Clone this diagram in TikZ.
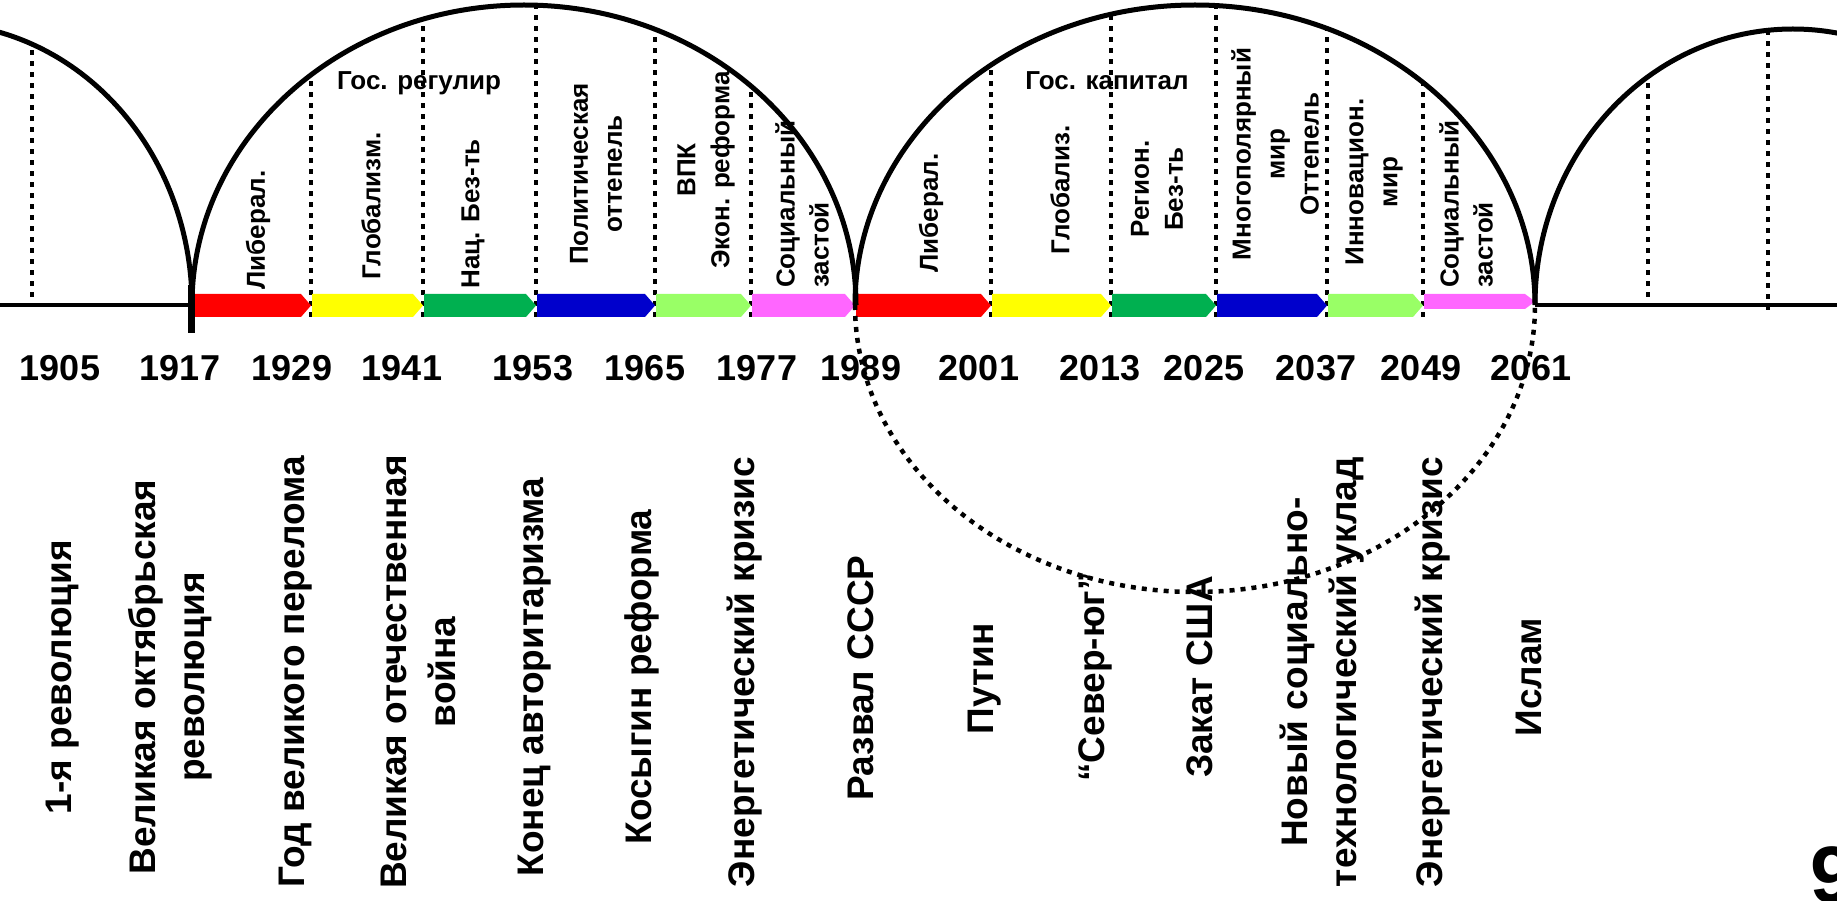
\documentclass[tikz,border=0pt]{standalone}
\usepackage{fontspec}
\setmainfont{Liberation Sans}
\definecolor{segRed}{RGB}{255,0,0}
\definecolor{segYellow}{RGB}{255,255,0}
\definecolor{segGreen}{RGB}{0,176,80}
\definecolor{segBlue}{RGB}{0,0,204}
\definecolor{segLightGreen}{RGB}{153,255,102}
\definecolor{segMagenta}{RGB}{255,102,255}
\newcommand\segarr[3]{\fill[fill=#1] (#2,-294) -- ({#3-10},-294) -- (#3,-305.5) -- ({#3-10},-317) -- (#2,-317) -- cycle;}
\begin{document}
\begin{tikzpicture}[x=1pt,y=1pt,
  arcline/.style={line width=5pt},
  dotline/.style={line width=4.5pt, dash pattern=on 5pt off 6pt},
  axisline/.style={line width=4pt},
  small/.style={font=\bfseries\fontsize{26}{34}\selectfont, inner sep=0pt, rotate=90, align=center},
  big/.style={font=\bfseries\fontsize{37}{49}\selectfont, inner sep=0pt, rotate=90, align=center},
  year/.style={font=\bfseries\fontsize{36}{40}\selectfont, inner sep=0pt, anchor=base},
  toplab/.style={font=\bfseries\fontsize{26}{30}\selectfont, inner sep=0pt, anchor=base},
]
\useasboundingbox (0,0) rectangle (1837,-901);
\clip (0,0) rectangle (1837,-901);

% dotted verticals, clipped to the arcs
\begin{scope}
  \clip (-66,-305) ellipse [x radius=258pt, y radius=282pt];
  \draw[dotline] (32,-297) -- (32,0);
\end{scope}
\begin{scope}
  \clip (523.5,-305) ellipse [x radius=332pt, y radius=300pt];
  \foreach \xx in {311,423,536,655,751} \draw[dotline] (\xx,-317) -- (\xx,0);
\end{scope}
\begin{scope}
  \clip (1195,-305) ellipse [x radius=340pt, y radius=300pt];
  \foreach \xx in {991,1111,1216,1327,1423} \draw[dotline] (\xx,-317) -- (\xx,0);
\end{scope}
\begin{scope}
  \clip (1793,-305) ellipse [x radius=258pt, y radius=276pt];
  \draw[dotline] (1648,-297) -- (1648,0);
  \draw[dotline] (1768,-310) -- (1768,0);
\end{scope}

% axis
\coordinate (a0) at (0,-305);
\coordinate (a1) at (192,-305);
\coordinate (a2) at (1535,-305);
\coordinate (a3) at (1837,-305);
\draw[axisline] (a0) -- (a1);
\draw[axisline] (a2) -- (a3);

% coloured segments
\segarr{segRed}{192}{311}
\segarr{segYellow}{312}{423}
\segarr{segGreen}{424}{536}
\segarr{segBlue}{537}{655}
\segarr{segLightGreen}{656}{751}
\segarr{segMagenta}{752}{855}
\segarr{segRed}{856}{991}
\segarr{segYellow}{992}{1111}
\segarr{segGreen}{1112}{1216}
\segarr{segBlue}{1217}{1327}
\segarr{segLightGreen}{1328}{1423}
\fill[fill=segMagenta] (1424,-294) -- (1525,-294) -- (1535,-301.5) -- (1525,-309) -- (1424,-309) -- cycle;

% thick tick at 1917
\draw[line width=7pt] (191.5,-285) -- (191.5,-333);

% arcs
\draw[arcline] (192,-305) arc[start angle=0, end angle=115, x radius=258pt, y radius=282pt];
\draw[arcline] (192,-305) arc[start angle=180, end angle=0, x radius=332pt, y radius=300pt];
\draw[arcline] (855,-305) arc[start angle=180, end angle=0, x radius=340pt, y radius=300pt];
\draw[arcline] (1535,-305) arc[start angle=180, end angle=60, x radius=258pt, y radius=276pt];
\draw[dotline] (855,-305) arc[start angle=180, end angle=360, x radius=340pt, y radius=287pt];

% top labels
\node[toplab] (gr) at (419,-90) {Гос. регулир};
\node[toplab] (gk) at (1107,-90) {Гос. капитал};

% labels above the segments
\node[small] (l1) at (258,-230) {Либерал.};
\node[small] (l2) at (371,-206) {Глобализм.};
\node[small] (l3) at (473,-214) {Нац. Без-ть};
\node[small] (l4) at (596,-174) {Политическая\\оттепель};
\node[small] (l5) at (706,-170) {ВПК\\Экон. реформа};
\node[small, align=left, anchor=west] (l6) at (802,-288) {Социальный\\застой};
\node[small] (l7) at (931,-213) {Либерал.};
\node[small] (l8) at (1060,-190) {Глобализ.};
\node[small] (l9) at (1157,-189) {Регион.\\Без-ть};
\node[small] (l10) at (1275,-154) {Многополярный\\мир\\Оттепель};
\node[small] (l11) at (1374,-182) {Инновацион.\\мир};
\node[small, align=left, anchor=west] (l12) at (1466,-288) {Социальный\\застой};

% years
\node[year] (y1) at (60,-381) {1905};
\node[year] (y2) at (180,-381) {1917};
\node[year] (y3) at (292,-381) {1929};
\node[year] (y4) at (402,-381) {1941};
\node[year] (y5) at (533,-381) {1953};
\node[year] (y6) at (645,-381) {1965};
\node[year] (y7) at (757,-381) {1977};
\node[year] (y8) at (861,-381) {1989};
\node[year] (y9) at (979,-381) {2001};
\node[year] (y10) at (1100,-381) {2013};
\node[year] (y11) at (1204,-381) {2025};
\node[year] (y12) at (1316,-381) {2037};
\node[year] (y13) at (1421,-381) {2049};
\node[year] (y14) at (1531,-381) {2061};

% events
\node[big] (e1) at (63,-677) {1-я революция};
\node[big] (e2) at (170,-677) {Великая октябрьская\\революция};
\node[big] (e3) at (296,-672) {Год великого перелома};
\node[big] (e4) at (418,-672) {Великая отечественная\\война};
\node[big] (e5) at (535,-677) {Конец авторитаризма};
\node[big] (e6) at (642,-677) {Косыгин реформа};
\node[big] (e7) at (745,-672) {Энергетический кризис};
\node[big] (e8) at (861,-678) {Развал СССР};
\node[big] (e9) at (985,-679) {Путин};
\node[big] (e10) at (1095,-677) {“Север-юг”};
\node[big] (e11) at (1200,-677) {Закат США};
\node[big] (e12) at (1322,-672) {Новый социально-\\технологический уклад};
\node[big] (e13) at (1433,-672) {Энергетический кризис};
\node[big] (e14) at (1529,-677) {Ислам};

% page number
\node[font=\bfseries\fontsize{80}{80}\selectfont, anchor=north west, inner sep=0pt] (pn) at (1810,-846) {9};
\end{tikzpicture}
\end{document}
